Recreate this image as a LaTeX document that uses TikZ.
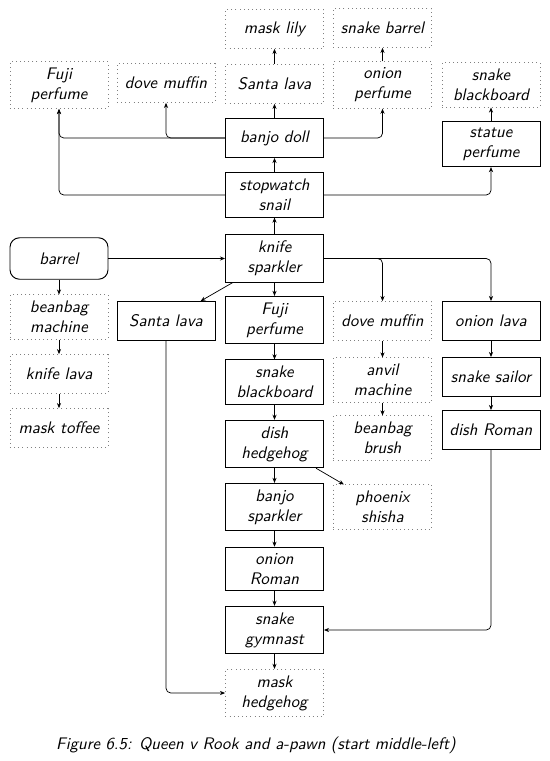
\documentclass[tikz,border=0pt]{standalone}
\usetikzlibrary{arrows.meta}
\begin{document}
\begin{tikzpicture}[x=0.6264pt,y=-0.6264pt,
  box/.style={draw, line width=0.6pt, minimum width=61.4pt, minimum height=24.4pt,
    inner ysep=3.9pt, inner xsep=2pt, align=center,
    font={\sffamily\slshape\fontsize{10.5}{12.5}\selectfont}},
  dbox/.style={box, draw=gray, dotted, line width=0.5pt},
  rbox/.style={box, rounded corners=6pt, minimum height=26pt},
  arr/.style={-{Stealth[length=3.2pt,width=2.6pt]}, line width=0.45pt},
  rarr/.style={arr, rounded corners=3pt},
  captxt/.style={font={\sffamily\slshape\fontsize{10.5}{12.5}\selectfont}}
]
\useasboundingbox (0,0) rectangle (550,761);
% columns: A=59, B=166, C=274.5, D=382.5, E=491
\node[dbox] (ml) at (274.5,29) {mask lily};
\node[dbox] (sb) at (382.5,28) {snake barrel};
\node[dbox] (fpT) at (59,85) {Fuji\\perfume};
\node[dbox] (dmT) at (166,83) {dove muffin};
\node[dbox] (slT) at (274.5,84) {Santa lava};
\node[dbox] (op) at (382.5,85) {onion\\perfume};
\node[dbox] (sbbT) at (491,85) {snake\\blackboard};
\node[box] (bd) at (274.5,138) {banjo doll};
\node[box] (sp) at (491,144) {statue\\perfume};
\node[box] (ss) at (274.5,195) {stopwatch\\snail};
\node[rbox] (bar) at (59,258.5) {barrel};
\node[box] (ks) at (274.5,258.5) {knife\\sparkler};
\node[dbox] (bm) at (59,317) {beanbag\\machine};
\node[box] (slM) at (166,321) {Santa lava};
\node[box] (fpM) at (274.5,320) {Fuji\\perfume};
\node[dbox] (dmM) at (382.5,321) {dove muffin};
\node[box] (ol) at (491,321) {onion lava};
\node[dbox] (kl) at (59,374) {knife lava};
\node[box] (sbbM) at (274.5,382) {snake\\blackboard};
\node[dbox] (am) at (382.5,380) {anvil\\machine};
\node[box] (ssl) at (491,377) {snake sailor};
\node[dbox] (mt) at (59,428) {mask toffee};
\node[dbox] (bb) at (382.5,438) {beanbag\\brush};
\node[box] (dr) at (491,430) {dish Roman};
\node[box] (dh) at (274.5,444) {dish\\hedgehog};
\node[dbox] (ps) at (382.5,507) {phoenix\\shisha};
\node[box] (bs) at (274.5,507) {banjo\\sparkler};
\node[box] (oR) at (274.5,569) {onion\\Roman};
\node[box] (sg) at (274.5,630) {snake\\gymnast};
\node[dbox] (mh) at (274.5,693) {mask\\hedgehog};
\node[captxt] (cap) at (256,745) {Figure 6.5: Queen v Rook and a-pawn (start middle-left)};
% connectors
\draw[arr] (ss) -- (bd);
\draw[arr] (bd) -- (slT);
\draw[arr] (slT) -- (ml);
\draw[rarr] (bd.west) -| (fpT.south);
\draw[rarr] (bd.west) -| (dmT.south);
\draw[rarr] (bd.east) -| (op.south);
\draw[arr] (op) -- (sb);
\draw[rarr] (ss.west) -| (fpT.south);
\draw[rarr] (ss.east) -| (sp.south);
\draw[arr] (sp) -- (sbbT);
\draw[arr] (ks) -- (ss);
\draw[arr] (bar) -- (ks);
\draw[arr] (bar) -- (bm);
\draw[arr] (bm) -- (kl);
\draw[arr] (kl) -- (mt);
\draw[arr] (ks) -- (slM);
\draw[arr] (ks) -- (fpM);
\draw[rarr] (ks.east) -| (dmM.north);
\draw[rarr] (ks.east) -| (ol.north);
\draw[rarr] (slM.south) |- (mh.west);
\draw[arr] (fpM) -- (sbbM);
\draw[arr] (sbbM) -- (dh);
\draw[arr] (dh) -- (bs);
\draw[arr] (bs) -- (oR);
\draw[arr] (oR) -- (sg);
\draw[arr] (sg) -- (mh);
\draw[arr] (dh) -- (ps);
\draw[arr] (dmM) -- (am);
\draw[arr] (am) -- (bb);
\draw[arr] (ol) -- (ssl);
\draw[arr] (ssl) -- (dr);
\draw[rarr] (dr.south) |- (sg.east);
\end{tikzpicture}
\end{document}
